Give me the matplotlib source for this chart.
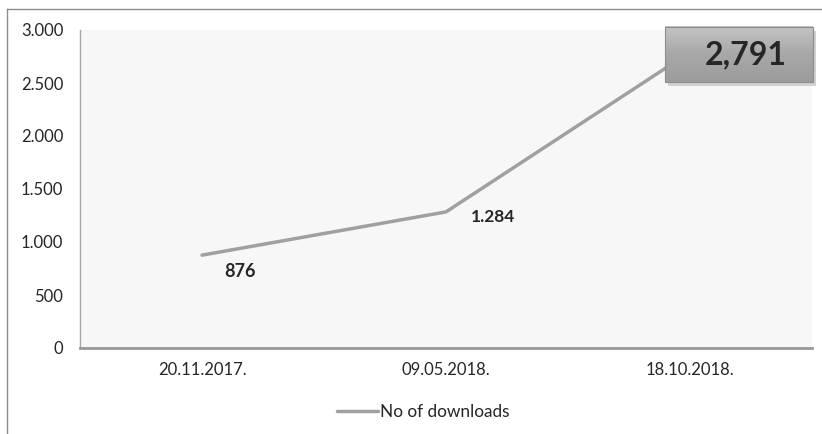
import numpy as np
import matplotlib.pyplot as plt
from matplotlib.patches import Rectangle
from matplotlib.lines import Line2D
from matplotlib.ticker import FuncFormatter

plt.rcParams['font.family'] = ['Lato', 'DejaVu Sans']

dates = ['20.11.2017.', '09.05.2018.', '18.10.2018.']
downloads = [876, 1284, 2791]
value_labels = ['876', '1.284', '2,791']

fig = plt.figure(figsize=(8.22, 4.34), dpi=100)
ax = fig.add_axes([80/822, 86/434, 732/822, 318/434])
ax.set_facecolor('#f7f7f7')

x = np.arange(len(dates))
line, = ax.plot(x, downloads, color='#a0a0a0', lw=2.5, solid_capstyle='round',
                label='No of downloads')

ax.set_xlim(-0.5, 2.5)
ax.set_ylim(0, 3000)
ax.set_yticks(np.arange(0, 3001, 500))
ax.yaxis.set_major_formatter(FuncFormatter(lambda v, p: f'{int(v):,}'.replace(',', '.')))
ax.set_xticks(x)
ax.set_xticklabels(dates)
ax.tick_params(length=0, labelsize=12, colors='#262626')
ax.tick_params(axis='y', pad=12)
ax.tick_params(axis='x', pad=10)
for s in ['top', 'right']:
    ax.spines[s].set_visible(False)
ax.spines['left'].set_color('#a6a6a6')
ax.spines['left'].set_linewidth(1.0)
ax.spines['bottom'].set_color('#999999')
ax.spines['bottom'].set_linewidth(2.0)

# data labels for first two points
ax.annotate(value_labels[0], (x[0], downloads[0]), xytext=(38, -16),
            textcoords='offset pixels', ha='center', va='center',
            fontsize=13, fontweight='bold', color='#262626')
ax.annotate(value_labels[1], (x[1], downloads[1]), xytext=(47, -5),
            textcoords='offset pixels', ha='center', va='center',
            fontsize=12.5, fontweight='bold', color='#262626')

# callout box for last point
bx, by, bw, bh = 0.799, 0.836, 0.202, 0.173
shadow = Rectangle((bx + 0.004, by - 0.012), bw, bh, transform=ax.transAxes,
                   facecolor='#d0d0d0', edgecolor='none', clip_on=False, zorder=4)
ax.add_patch(shadow)
grad = np.linspace(0, 1, 50).reshape(-1, 1)
ax.imshow(grad, cmap=plt.matplotlib.colors.LinearSegmentedColormap.from_list(
    'g', ['#c4c4c4', '#a8a8a8', '#9c9c9c']), aspect='auto',
    extent=(bx, bx + bw, by, by + bh), transform=ax.transAxes, zorder=5,
    clip_on=False, origin='upper')
box = Rectangle((bx, by), bw, bh, transform=ax.transAxes, facecolor='none',
                edgecolor='#8c8c8c', lw=0.8, clip_on=False, zorder=6)
ax.add_patch(box)
ax.text(bx + bw / 2 + 0.009, by + bh / 2, value_labels[2], transform=ax.transAxes,
        ha='center', va='center', fontsize=23, fontweight='bold',
        color='#262626', zorder=7)

# outer chart border
fig.add_artist(Line2D([7/822, 7/822], [0, 1 - 9/434], color='#8c8c8c', lw=1.0))
fig.add_artist(Line2D([7/822, 1], [1 - 9/434, 1 - 9/434], color='#8c8c8c', lw=1.0))

fig.legend(handles=[line], loc='center', bbox_to_anchor=(423/822, 1 - 412/434),
           frameon=False, fontsize=12.4, handlelength=2.4, handletextpad=0.1,
           labelcolor='#262626')

fig.savefig('out.png', dpi=100)
